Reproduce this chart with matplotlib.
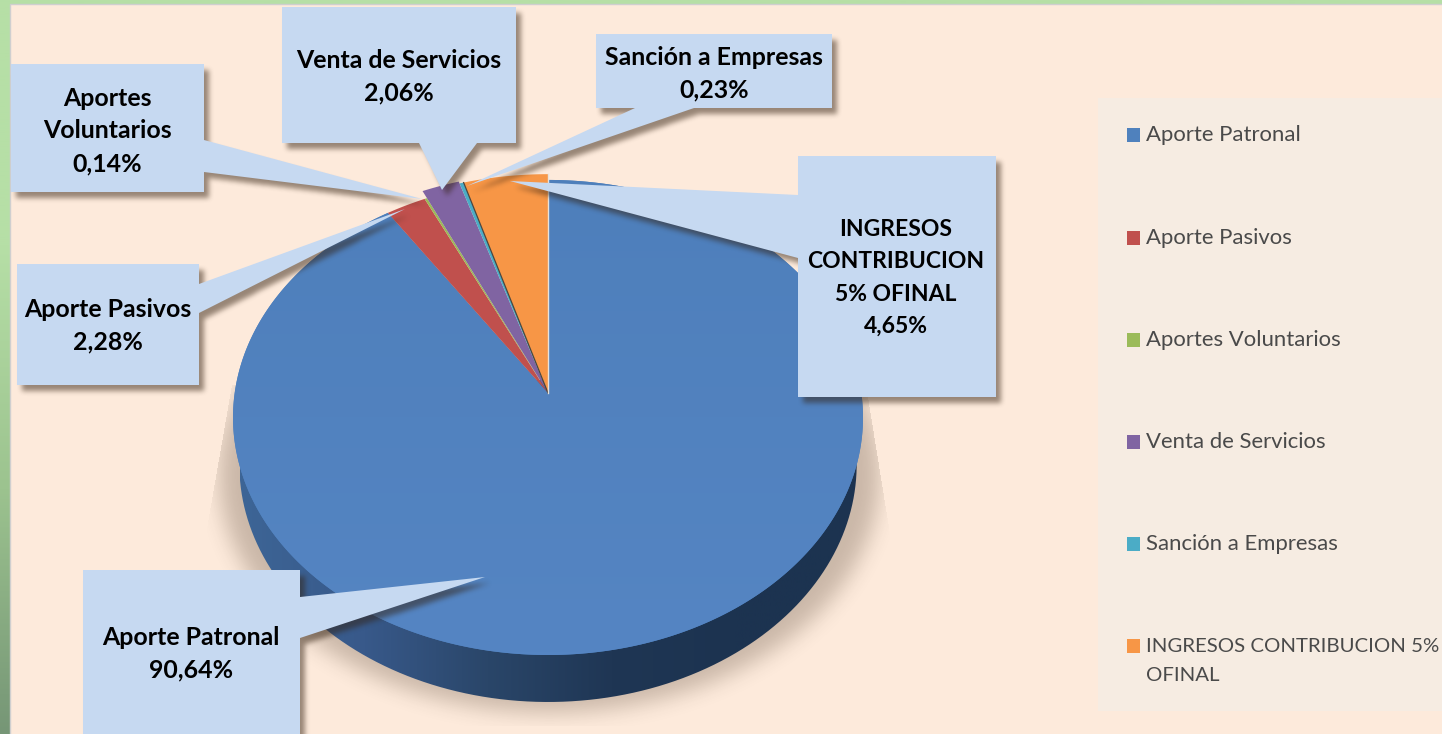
import numpy as np
import matplotlib
matplotlib.use('Agg')
import matplotlib.pyplot as plt
from matplotlib.colors import LinearSegmentedColormap
from matplotlib.patches import Polygon, Rectangle, PathPatch
from matplotlib.path import Path

# Datos
categorias = ['Aporte Patronal', 'Aporte Pasivos', 'Aportes Voluntarios',
              'Venta de Servicios', 'Sanción a Empresas',
              'INGRESOS CONTRIBUCION 5% OFINAL']
valores = [90.64, 2.28, 0.14, 2.06, 0.23, 4.65]
colores = ['#4f81bd', '#c0504d', '#9bbb59', '#8064a2', '#4bacc6', '#f79646']
textos_callout = ['Aporte Patronal', 'Aporte Pasivos', 'Aportes\nVoluntarios',
                  'Venta de Servicios', 'Sanción a Empresas',
                  'INGRESOS\nCONTRIBUCION\n5% OFINAL']
textos_leyenda = ['Aporte Patronal', 'Aporte Pasivos', 'Aportes Voluntarios',
                  'Venta de Servicios', 'Sanción a Empresas',
                  'INGRESOS CONTRIBUCION 5%\nOFINAL']

# Estilo
FONDO = '#fdeadb'
CALLOUT = '#c6d9f1'
radios = [1.0, 1.0, 1.0, 1.04, 1.03, 1.03]
CX, CY = 548, 393
K, A, B = 0.103, 235.0, 313.3

fig = plt.figure(figsize=(14.42, 7.34), dpi=100)
ax = fig.add_axes([0, 0, 1, 1])


def proyectar(ang, r=1.0):
    # angulo medido desde las 12 en sentido horario, con perspectiva
    u = r * np.sin(ang)
    v = r * np.cos(ang)
    w = 1 / (1 + K * v)
    return CX + B * u * w, CY - A * v * w


def sombra(poly, dx, dy, blur, alpha, z, recorte=None, color=(0.2, 0.13, 0.07)):
    # sombra difuminada de un poligono
    poly = np.asarray(poly, dtype=float) + [dx, dy]
    m = 3 * blur + 2
    x0, y0 = np.floor(poly.min(axis=0) - m).astype(int)
    x1, y1 = np.ceil(poly.max(axis=0) + m).astype(int)
    xx, yy = np.meshgrid(np.arange(x0, x1) + 0.5, np.arange(y0, y1) + 0.5)
    pts = np.column_stack([xx.ravel(), yy.ravel()])
    mask = Path(poly).contains_points(pts).reshape(xx.shape).astype(float)
    nucleo = np.ones(blur) / blur
    for _ in range(3):
        mask = np.apply_along_axis(np.convolve, 0, mask, nucleo, mode='same')
        mask = np.apply_along_axis(np.convolve, 1, mask, nucleo, mode='same')
    if recorte is not None:
        mask = mask * Path(recorte).contains_points(pts).reshape(xx.shape)
    rgba = np.zeros(mask.shape + (4,))
    rgba[..., :3] = color
    rgba[..., 3] = mask * alpha
    ax.imshow(rgba, extent=(x0, x1, y1, y0), aspect='auto', zorder=z, interpolation='bilinear')


# Marco verde y fondo
verde = LinearSegmentedColormap.from_list('v', ['#b6dfa6', '#b6dfa6', '#9cc38f', '#769676'])
ax.imshow(np.linspace(0, 1, 256).reshape(-1, 1), cmap=verde, extent=(0, 1442, 734, 0),
          aspect='auto', zorder=0)
ax.add_patch(Rectangle((10, 3.5), 1440, 740, fc=FONDO, ec='#cfcfcf', lw=1, zorder=1))

# Porciones: angulos a partir de los valores
fracs = np.array(valores) / sum(valores)
fin = np.cumsum(fracs) * 2 * np.pi
ini = np.concatenate([[0], fin[:-1]])

# Sombra debajo de la torta
t = np.linspace(0, 2 * np.pi, 721)
bx, by = proyectar(t)
rim = np.column_stack([CX + 0.98 * (bx - CX), by + 47])
ancha = np.column_stack([CX + 1.07 * (rim[:, 0] - CX), rim[:, 1]])
recorte_sombra = [(232, 385), (866, 385), (891, 540), (891, 726), (205, 726), (205, 540)]
sombra(ancha, 0, 9, 20, 0.25, 2, recorte=recorte_sombra)

# Lateral con degradado
lateral = LinearSegmentedColormap.from_list(
    'l', ['#3d6596', '#38598a', '#2a4669', '#1f3654', '#1c3350', '#1c3350'])
im = ax.imshow(np.linspace(0, 1, 256).reshape(1, -1), cmap=lateral,
               extent=(240, 860, 734, 380), aspect='auto', zorder=3)
clip = PathPatch(Path(rim), transform=ax.transData, fc='none', ec='none')
ax.add_patch(clip)
im.set_clip_path(clip)

# Cara superior
for i in range(len(valores)):
    a = np.linspace(ini[i], fin[i], max(int((fin[i] - ini[i]) * 200), 4))
    xs, ys = proyectar(a, radios[i])
    pts = np.column_stack([np.r_[CX, xs], np.r_[CY, ys]])
    forma_cara = Polygon(pts, closed=True, fc=colores[i], ec='none', zorder=4)
    ax.add_patch(forma_cara)
    if i == 0:
        # la porcion grande aclara un poco hacia abajo
        azul = LinearSegmentedColormap.from_list('a', ['#4e7fbb', '#5585c3'])
        g = ax.imshow(np.linspace(0, 1, 64).reshape(-1, 1), cmap=azul,
                      extent=(230, 866, 660, 175), aspect='auto', zorder=4)
        g.set_clip_path(forma_cara)

# Lineas finas entre las porciones separadas
x_b, y_b = proyectar(fin[4], radios[4])
ax.plot([CX, x_b], [CY, y_b], color='#4a4640', lw=0.9, zorder=5)
x_b, y_b = proyectar(fin[5], radios[5])
ax.plot([CX, x_b], [CY, y_b], color='#e8e2da', lw=1.0, zorder=5)

# Callouts: caja (x0, y0, x1, y1) y puntero
cajas = [(83, 570, 300, 745), (17, 264, 199, 385), (11, 64, 204, 192),
         (282, 7, 516, 143), (596, 34, 832, 108), (798, 156, 996, 397)]
punteros = [[(300, 597), (485, 577), (300, 638)],
            [(199, 284), (405, 209), (199, 313)],
            [(204, 140), (422, 199), (204, 172)],
            [(419, 143), (442, 190), (477, 143)],
            [(635, 108), (467, 186), (694, 108)],
            [(798, 195), (510, 181), (798, 258)]]
pos_texto = [(191, 654), (108, 326), (107, 131), (399, 76.5), (714, 73.5), (896, 278)]
tam_texto = [17.9, 17.9, 17.9, 17.9, 17.9, 16.5]
esp_texto = [1.5, 1.5, 1.52, 1.52, 1.5, 1.67]


def contorno(caja, puntero):
    x0, y0, x1, y1 = caja
    esquinas = [(x0, y0), (x1, y0), (x1, y1), (x0, y1)]
    p, tip, q = puntero
    # insertar el puntero en el lado donde se apoya
    if p[0] == x1:
        return [esquinas[0], esquinas[1], p, tip, q, esquinas[2], esquinas[3]]
    if p[0] == x0:
        return [esquinas[0], esquinas[1], esquinas[2], esquinas[3], q, tip, p]
    return [esquinas[0], esquinas[1], esquinas[2], q, tip, p, esquinas[3]]


for i, (caja, puntero) in enumerate(zip(cajas, punteros)):
    forma = contorno(caja, puntero)
    sombra(forma, 5, 6, 5, 0.5, 6 + i * 2)
    ax.add_patch(Polygon(forma, closed=True, fc=CALLOUT, ec='none', zorder=7 + i * 2))
    etiqueta = textos_callout[i] + '\n' + f'{valores[i]:.2f}'.replace('.', ',') + '%'
    ax.text(pos_texto[i][0], pos_texto[i][1], etiqueta, ha='center', va='center',
            family='Lato', weight='bold', fontsize=tam_texto[i], color='black',
            linespacing=esp_texto[i], zorder=30)

# Leyenda
ax.add_patch(Rectangle((1098, 98), 344, 613, fc='#f6ece2', ec='none', zorder=2))
pos_leyenda = [134, 237, 339, 441, 543, 645]
tam_leyenda = [15.9, 15.9, 15.9, 15.9, 15.9, 14.7]
for y, c, txt, tam in zip(pos_leyenda, colores, textos_leyenda, tam_leyenda):
    ax.add_patch(Rectangle((1127, y - 6.5), 13, 14, fc=c, ec='none', zorder=3))
    extra = 2.5 if '\n' in txt else 0
    ax.text(1146, y - 9 + extra, txt, ha='left', va='top', family='Lato', fontsize=tam,
            color='#4a4a4a', linespacing=1.85, zorder=4)

ax.set_xlim(0, 1442)
ax.set_ylim(734, 0)
ax.axis('off')

fig.savefig('out.png', dpi=100)
